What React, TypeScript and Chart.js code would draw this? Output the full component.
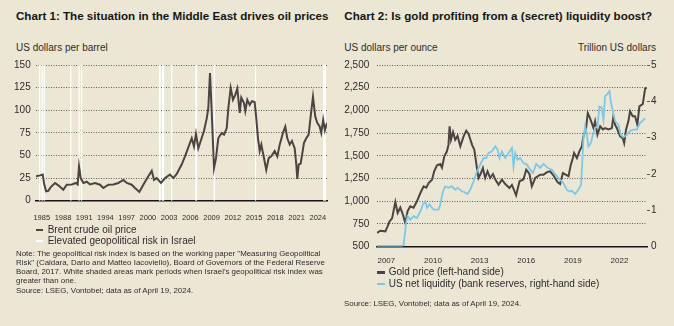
import React, { useEffect, useRef } from "react";
import { Chart, registerables } from "chart.js";

Chart.register(...registerables);

// ---------- Chart 1 data: Brent crude oil price (USD per barrel) ----------
const oilYears = [
  1984.19, 1984.76, 1985.14, 1985.32, 1985.61, 1985.93, 1986.27, 1986.88, 1987.34, 1988.05,
  1988.53, 1989.24, 1989.84, 1990.08, 1990.27, 1990.51, 1990.88, 1991.36, 1991.82, 1992.53,
  1993.23, 1993.7, 1994.41, 1995.11, 1995.82, 1996.53, 1997.01, 1997.71, 1998.18, 1998.79,
  1999.35, 2000.06, 2000.54, 2000.86, 2001.24, 2001.85, 2002.42, 2003.12, 2003.59, 2004.07,
  2004.77, 2005.24, 2005.85, 2006.19, 2006.51, 2006.79, 2007.12, 2007.46, 2007.92, 2008.31,
  2008.53, 2008.77, 2009.01, 2009.34, 2009.62, 2009.94, 2010.42, 2010.75, 2011.13, 2011.36,
  2011.69, 2012.02, 2012.34, 2012.63, 2012.97, 2013.19, 2013.57, 2013.76, 2014.04, 2014.38,
  2014.7, 2015.08, 2015.31, 2015.55, 2015.79, 2016.02, 2016.4, 2016.72, 2017.06, 2017.43,
  2017.91, 2018.28, 2018.62, 2019.08, 2019.41, 2019.69, 2020.03, 2020.35, 2020.73, 2020.96,
  2021.1, 2021.3, 2021.58, 2022.05, 2022.37, 2022.71, 2022.99, 2023.32, 2023.64, 2023.92,
  2024.26, 2024.49, 2024.76, 2025.0, 2025.3,
];
const oilPrices = [
  27, 28, 29, 19.6, 10.4, 11, 15, 19.6, 17, 12,
  17.7, 18, 19.6, 18, 38, 25, 19.6, 21, 18, 19.6,
  17.7, 14, 17.7, 18, 19.6, 23, 19.6, 17.7, 14, 9.6,
  17.7, 27, 33, 23, 25, 19.6, 25, 29, 25, 29.5,
  40, 49, 62, 69, 60, 74, 58, 66, 77, 91,
  102, 141, 99, 36, 47, 69, 75, 73, 80, 102,
  124.6, 111.6, 117, 124, 97, 114, 108, 99, 111.6, 106,
  110, 109, 91, 69, 55, 62, 47, 34, 47, 49,
  55, 49, 62, 75, 82, 69, 62, 66, 58, 40,
  24, 40, 41, 64, 69, 73, 93, 115, 93, 86,
  82, 75, 89.5, 78, 86,
];
// periods of elevated geopolitical risk in Israel (white bands)
const riskStart = [1984.62, 1984.97, 1985.27, 1989.03, 1990.19, 1990.54, 2001.55, 2001.98, 2003.28, 2006.7, 2009.3, 2015.12, 2024.75];
const riskEnd = [1984.72, 1985.07, 1985.37, 1989.13, 1990.29, 1990.64, 2001.8, 2002.3, 2003.38, 2006.95, 2009.42, 2015.24, 2025.15];
const oilTickYears = [1985, 1988, 1991, 1994, 1997, 2000, 2003, 2006, 2009, 2012, 2015, 2018, 2021, 2024];
const oilYTicks = [0, 25, 50, 75, 100, 125, 150];

// ---------- Chart 2 data: gold price and US net liquidity ----------
const goldYears = [
  2006.4, 2006.61, 2006.94, 2007.08, 2007.21, 2007.37, 2007.58, 2007.73, 2007.9, 2008.07,
  2008.22, 2008.37, 2008.54, 2008.75, 2008.97, 2009.19, 2009.4, 2009.57, 2009.72, 2009.94,
  2010.08, 2010.26, 2010.47, 2010.58, 2010.73, 2010.9, 2011.0, 2011.07, 2011.16, 2011.29,
  2011.43, 2011.58, 2011.76, 2011.97, 2012.14, 2012.29, 2012.51, 2012.66, 2012.83, 2012.93,
  2013.09, 2013.21, 2013.36, 2013.51, 2013.68, 2013.86, 2014.01, 2014.22, 2014.44, 2014.65,
  2014.92, 2015.08, 2015.35, 2015.57, 2015.82, 2016.0, 2016.21, 2016.36, 2016.58, 2016.9,
  2017.11, 2017.37, 2017.54, 2017.75, 2018.01, 2018.18, 2018.36, 2018.57, 2018.72, 2018.87,
  2019.0, 2019.08, 2019.26, 2019.42, 2019.58, 2019.68, 2019.85, 2019.96, 2020.07, 2020.22,
  2020.33, 2020.43, 2020.58, 2020.76, 2020.93, 2021.07, 2021.29, 2021.51, 2021.61, 2021.72,
  2021.83, 2022.04, 2022.21, 2022.3, 2022.42, 2022.57, 2022.68, 2022.85, 2023.0, 2023.15,
  2023.28, 2023.5, 2023.65, 2023.77,
];
const goldPrices = [
  651, 676, 669, 724, 780, 812, 992, 871, 930, 852,
  761, 893, 945, 930, 1000, 1091, 1165, 1150, 1201, 1238,
  1330, 1396, 1410, 1370, 1495, 1550, 1623, 1825, 1678, 1763,
  1678, 1720, 1605, 1715, 1777, 1740, 1623, 1568, 1366, 1256,
  1311, 1366, 1256, 1330, 1256, 1300, 1238, 1183, 1238, 1190,
  1146, 1180, 1066, 1220, 1240, 1348, 1300, 1165, 1256, 1293,
  1293, 1322, 1330, 1286, 1212, 1190, 1311, 1290, 1275, 1403,
  1476, 1531, 1476, 1550, 1605, 1715, 1806, 1972, 1930, 1861,
  1806, 1880, 1733, 1825, 1790, 1806, 1790, 1806, 1935, 1840,
  1806, 1715, 1696, 1641, 1788, 1880, 1990, 1935, 1935, 1843,
  2045, 2071, 2239, 2250,
];
const liqYears = [
  2006.4, 2008.01, 2008.11, 2008.29, 2008.37, 2008.54, 2008.75, 2008.97, 2009.19, 2009.36,
  2009.51, 2009.62, 2009.78, 2010.04, 2010.36, 2010.47, 2010.64, 2010.79, 2011.0, 2011.22,
  2011.43, 2011.58, 2011.87, 2011.97, 2012.22, 2012.4, 2012.61, 2012.83, 2013.04, 2013.25,
  2013.43, 2013.57, 2013.79, 2014.01, 2014.16, 2014.28, 2014.44, 2014.65, 2014.86, 2015.08,
  2015.18, 2015.29, 2015.44, 2015.61, 2015.82, 2016.04, 2016.25, 2016.43, 2016.64, 2016.9,
  2017.11, 2017.37, 2017.65, 2017.86, 2018.07, 2018.39, 2018.61, 2018.78, 2018.93, 2019.15,
  2019.36, 2019.53, 2019.6, 2019.68, 2019.79, 2019.9, 2020.0, 2020.16, 2020.29, 2020.43,
  2020.58, 2020.71, 2020.86, 2020.97, 2021.07, 2021.22, 2021.35, 2021.44, 2021.57, 2021.72,
  2021.93, 2022.08, 2022.25, 2022.47, 2022.68, 2022.89, 2023.11, 2023.32, 2023.5, 2023.65,
];
const liqValues = [
  0.02, 0.02, 0.05, 0.7, 0.84, 0.74, 0.84, 0.79, 0.97, 1.16,
  1.25, 1.07, 1.16, 1.02, 1.02, 1.16, 1.52, 1.66, 1.62, 1.66,
  1.57, 1.62, 1.52, 1.51, 1.45, 1.57, 1.8, 2.07, 2.26, 2.44,
  2.44, 2.58, 2.62, 2.76, 2.67, 2.44, 2.62, 2.44, 2.58, 2.72,
  2.21, 2.58, 2.39, 2.44, 2.3, 2.26, 2.12, 2.03, 2.28, 2.17,
  2.28, 2.17, 2.12, 2.0, 1.89, 1.75, 1.57, 1.52, 1.54, 1.45,
  1.57, 1.71, 2.26, 2.99, 3.31, 3.1, 2.76, 2.85, 3.08, 3.27,
  3.31, 3.86, 3.82, 3.49, 4.14, 4.2, 4.28, 4.0, 3.73, 3.45,
  3.36, 3.08, 3.01, 3.08, 3.19, 3.22, 3.22, 3.4, 3.47, 3.54,
];
const goldTickYears = [2007, 2010, 2013, 2016, 2019, 2022];
const goldYTicks = [500, 750, 1000, 1250, 1500, 1750, 2000, 2250, 2500];
const liqYTicks = [0, 1, 2, 3, 4, 5];

const FONT = '"Liberation Sans", Arial, sans-serif';
const BG = "#ece7d5";
const DARK = "#4a4541";
const BLUE = "#7cc8e6";
const GRID = "#5f5a55";
const TXT = "#2b2b2b";

function OilChart() {
  const ref = useRef<HTMLCanvasElement>(null);
  useEffect(() => {
    const bands = {
      id: "bands",
      beforeDatasetsDraw(chart: any) {
        const { ctx, chartArea, scales } = chart;
        const x = scales.x;
        ctx.save();
        ctx.fillStyle = "#ffffff";
        riskStart.forEach((s, i) => {
          const x0 = x.getPixelForValue(s);
          const x1 = x.getPixelForValue(riskEnd[i]);
          ctx.fillRect(x0, chartArea.top, Math.max(1.2, x1 - x0), chartArea.bottom - chartArea.top);
        });
        ctx.restore();
      },
    };
    const chart = new Chart(ref.current!, {
      type: "line",
      data: {
        datasets: [
          {
            label: "Brent crude oil price",
            data: oilYears.map((x, i) => ({ x, y: oilPrices[i] })),
            borderColor: DARK,
            borderWidth: 2,
            pointRadius: 0,
            tension: 0,
          },
        ],
      },
      options: {
        animation: false,
        responsive: false,
        maintainAspectRatio: false,
        layout: { padding: { left: 0, right: 10, top: 15, bottom: 0 } },
        plugins: { legend: { display: false }, tooltip: { enabled: false } },
        scales: {
          x: {
            type: "linear",
            min: 1984.19,
            max: 2025.3,
            afterBuildTicks: (s: any) => {
              s.ticks = oilTickYears.map((v) => ({ value: v }));
            },
            afterFit: (s: any) => {
              s.height = 24.3;
            },
            grid: { display: false },
            border: { display: true, color: "#151515", width: 1.5 },
            ticks: {
              autoSkip: false,
              maxRotation: 0,
              minRotation: 0,
              padding: 4.5,
              color: TXT,
              font: { family: FONT, size: 7.5 },
              callback: (v: any) => String(v),
            },
          },
          y: {
            type: "linear",
            min: 0,
            max: 150,
            afterBuildTicks: (s: any) => {
              s.ticks = oilYTicks.map((v) => ({ value: v }));
            },
            afterFit: (s: any) => {
              s.width = 36;
            },
            border: { display: false, dash: [1, 1.5] },
            grid: {
              drawTicks: false,
              color: (c: any) => (c.tick && c.tick.value === 0 ? "rgba(0,0,0,0)" : GRID),
              lineWidth: 1,
            },
            ticks: { padding: 5.3, color: TXT, font: { family: FONT, size: 10 } },
          },
        },
      },
      plugins: [bands],
    });
    return () => chart.destroy();
  }, []);
  return (
    <canvas
      ref={ref}
      width={337}
      height={175}
      style={{ position: "absolute", left: 0, top: 50, width: 337, height: 175 }}
    />
  );
}

function GoldChart() {
  const ref = useRef<HTMLCanvasElement>(null);
  useEffect(() => {
    const chart = new Chart(ref.current!, {
      type: "line",
      data: {
        datasets: [
          {
            label: "Gold price (left-hand side)",
            data: goldYears.map((x, i) => ({ x, y: goldPrices[i] })),
            borderColor: DARK,
            borderWidth: 2,
            pointRadius: 0,
            tension: 0,
            yAxisID: "y",
            order: 2,
          },
          {
            label: "US net liquidity (bank reserves, right-hand side)",
            data: liqYears.map((x, i) => ({ x, y: liqValues[i] })),
            borderColor: BLUE,
            borderWidth: 1.8,
            pointRadius: 0,
            tension: 0,
            yAxisID: "y1",
            order: 1,
          },
        ],
      },
      options: {
        animation: false,
        responsive: false,
        maintainAspectRatio: false,
        layout: { padding: { left: 0, right: 0, top: 15, bottom: 0 } },
        plugins: { legend: { display: false }, tooltip: { enabled: false } },
        scales: {
          x: {
            type: "linear",
            min: 2006.4,
            max: 2023.77,
            afterBuildTicks: (s: any) => {
              s.ticks = goldTickYears.map((v) => ({ value: v }));
            },
            afterFit: (s: any) => {
              s.height = 23.3;
            },
            grid: { display: false },
            border: { display: true, color: "#151515", width: 1.5 },
            ticks: {
              autoSkip: false,
              maxRotation: 0,
              minRotation: 0,
              padding: 1.3,
              color: TXT,
              font: { family: FONT, size: 8 },
              callback: (v: any) => String(v),
            },
          },
          y: {
            type: "linear",
            position: "left",
            min: 500,
            max: 2500,
            afterBuildTicks: (s: any) => {
              s.ticks = goldYTicks.map((v) => ({ value: v }));
            },
            afterFit: (s: any) => {
              s.width = 40;
            },
            border: { display: false, dash: [1, 1.5] },
            grid: {
              drawTicks: false,
              color: (c: any) => (c.tick && c.tick.value === 500 ? "rgba(0,0,0,0)" : GRID),
              lineWidth: 1,
            },
            ticks: {
              padding: 7.7,
              color: TXT,
              font: { family: FONT, size: 10 },
              callback: (v: any) => Number(v).toLocaleString("en-US"),
            },
          },
          y1: {
            type: "linear",
            position: "right",
            min: 0,
            max: 5,
            afterBuildTicks: (s: any) => {
              s.ticks = liqYTicks.map((v) => ({ value: v }));
            },
            afterFit: (s: any) => {
              s.width = 27;
            },
            border: { display: false },
            grid: {
              drawOnChartArea: false,
              drawTicks: true,
              tickLength: 3,
              tickColor: (c: any) => (c.tick && c.tick.value === 0 ? "rgba(0,0,0,0)" : GRID),
            },
            ticks: { padding: 1, color: TXT, font: { family: FONT, size: 10 } },
          },
        },
      },
    });
    return () => chart.destroy();
  }, []);
  return (
    <canvas
      ref={ref}
      width={337}
      height={220}
      style={{ position: "absolute", left: 337, top: 50, width: 337, height: 220 }}
    />
  );
}

const txt = (size: number, extra: any = {}): any => ({
  position: "absolute",
  fontFamily: FONT,
  fontSize: size,
  lineHeight: `${size}px`,
  color: TXT,
  whiteSpace: "nowrap",
  margin: 0,
  ...extra,
});

const swatch = (left: number, top: number, w: number, color: string): any => ({
  position: "absolute",
  left,
  top,
  width: w,
  height: 2.7,
  background: color,
});

export default function App() {
  return (
    <div
      style={{
        position: "absolute",
        left: 0,
        top: 0,
        width: 674,
        height: 326,
        background: BG,
        overflow: "hidden",
      }}
    >
      <div style={txt(11.6, { left: 16, top: 10.2, fontWeight: 700, color: "#151515" })}>
        Chart 1: The situation in the Middle East drives oil prices
      </div>
      <div style={txt(11.6, { left: 344.3, top: 10.2, fontWeight: 700, color: "#151515" })}>
        Chart 2: Is gold profiting from a (secret) liquidity boost?
      </div>

      <div style={txt(10, { left: 16, top: 42.5 })}>US dollars per barrel</div>
      <div style={txt(10, { left: 344.3, top: 42.5 })}>US dollars per ounce</div>
      <div style={txt(10, { right: 18, top: 42.5 })}>Trillion US dollars</div>

      <OilChart />
      <GoldChart />

      <div style={swatch(36, 228.7, 7.3, DARK)} />
      <div style={txt(10, { left: 47.7, top: 224.8 })}>Brent crude oil price</div>
      <div style={swatch(36, 239.7, 7.3, "#ffffff")} />
      <div style={txt(10, { left: 47.7, top: 235.8 })}>Elevated geopolitical risk in Israel</div>

      <div style={txt(7.9, { left: 16, top: 248.6, lineHeight: "9.3px" })}>
        Note: The geopolitical risk index is based on the working paper "Measuring Geopolitical
        <br />
        Risk" (Caldara, Dario and Matteo Iacoviello), Board of Governors of the Federal Reserve
        <br />
        Board, 2017. White shaded areas mark periods when Israel's geopolitical risk index was
        <br />
        greater than one.
        <br />
        Source: LSEG, Vontobel; data as of April 19, 2024.
      </div>

      <div style={swatch(377, 271.3, 8, DARK)} />
      <div style={txt(10, { left: 388.7, top: 267.2 })}>Gold price (left-hand side)</div>
      <div style={swatch(377, 282.7, 8, BLUE)} />
      <div style={txt(10, { left: 388.7, top: 278.8 })}>
        US net liquidity (bank reserves, right-hand side)
      </div>

      <div style={txt(7.9, { left: 344, top: 300 })}>
        Source: LSEG, Vontobel; data as of April 19, 2024.
      </div>
    </div>
  );
}
